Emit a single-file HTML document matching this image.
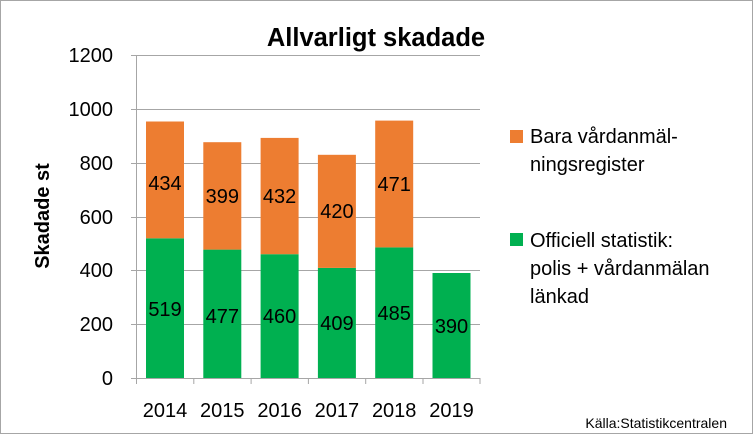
<!DOCTYPE html>
<html><head><meta charset="utf-8"><style>
body{margin:0;background:#fff}
svg{display:block;font-family:"Liberation Sans",Calibri,sans-serif}
</style></head><body>
<svg width="755" height="436" viewBox="0 0 755 436">
<rect x="0.5" y="0.5" width="752" height="433" fill="#fff" stroke="#a6a6a6"/>
<text x="376" y="46" font-size="25.5" font-weight="bold" text-anchor="middle">Allvarligt skadade</text>
<g stroke="#a6a6a6" stroke-width="1">
<line x1="131" x2="480" y1="55.5" y2="55.5"/>
<line x1="131" x2="480" y1="109.5" y2="109.5"/>
<line x1="131" x2="480" y1="163.5" y2="163.5"/>
<line x1="131" x2="480" y1="217.5" y2="217.5"/>
<line x1="131" x2="480" y1="270.5" y2="270.5"/>
<line x1="131" x2="480" y1="324.5" y2="324.5"/>
<line x1="131" x2="480" y1="378.5" y2="378.5"/>
<line x1="136.5" x2="136.5" y1="55" y2="378"/>
<line x1="136.5" x2="136.5" y1="378" y2="384"/>
<line x1="193.8" x2="193.8" y1="378" y2="384"/>
<line x1="251.1" x2="251.1" y1="378" y2="384"/>
<line x1="308.4" x2="308.4" y1="378" y2="384"/>
<line x1="365.7" x2="365.7" y1="378" y2="384"/>
<line x1="423" x2="423" y1="378" y2="384"/>
<line x1="480" x2="480" y1="378" y2="384"/>
</g>
<g font-size="20" text-anchor="end">
<text x="113" y="62">1200</text><text x="113" y="116">1000</text><text x="113" y="170">800</text>
<text x="113" y="224">600</text><text x="113" y="277">400</text><text x="113" y="331">200</text><text x="113" y="385">0</text>
</g>
<text transform="translate(49,216) rotate(-90)" font-size="20" font-weight="bold" text-anchor="middle">Skadade st</text>
<g fill="#00b050">
<rect x="146" y="238.3" width="38" height="139.7"/>
<rect x="203.3" y="249.6" width="38" height="128.4"/>
<rect x="260.6" y="254.2" width="38" height="123.8"/>
<rect x="317.9" y="267.9" width="38" height="110.1"/>
<rect x="375.2" y="247.4" width="38" height="130.6"/>
<rect x="432.5" y="273" width="38" height="105"/>
</g>
<g fill="#ed7d31">
<rect x="146" y="121.5" width="38" height="116.8"/>
<rect x="203.3" y="142.2" width="38" height="107.4"/>
<rect x="260.6" y="137.9" width="38" height="116.3"/>
<rect x="317.9" y="154.8" width="38" height="113.1"/>
<rect x="375.2" y="120.6" width="38" height="126.8"/>
</g>
<g font-size="20" text-anchor="middle">
<text x="165" y="190">434</text><text x="222.3" y="203">399</text><text x="279.6" y="203">432</text>
<text x="336.9" y="218">420</text><text x="394.2" y="191">471</text>
<text x="165" y="316">519</text><text x="222.3" y="323">477</text><text x="279.6" y="323">460</text>
<text x="336.9" y="330">409</text><text x="394.2" y="320">485</text><text x="451.5" y="333">390</text>
<text x="165" y="417">2014</text><text x="222.3" y="417">2015</text><text x="279.6" y="417">2016</text>
<text x="336.9" y="417">2017</text><text x="394.2" y="417">2018</text><text x="451.5" y="417">2019</text>
</g>
<rect x="510" y="130" width="13" height="13" fill="#ed7d31"/>
<rect x="510" y="233" width="13" height="13" fill="#00b050"/>
<g font-size="20">
<text x="530" y="143">Bara vårdanmäl-</text>
<text x="530" y="171">ningsregister</text>
<text x="530" y="247">Officiell statistik:</text>
<text x="530" y="275">polis + vårdanmälan</text>
<text x="530" y="303">länkad</text>
</g>
<text x="727" y="428" font-size="14" text-anchor="end">Källa:Statistikcentralen</text>
</svg>
</body></html>
